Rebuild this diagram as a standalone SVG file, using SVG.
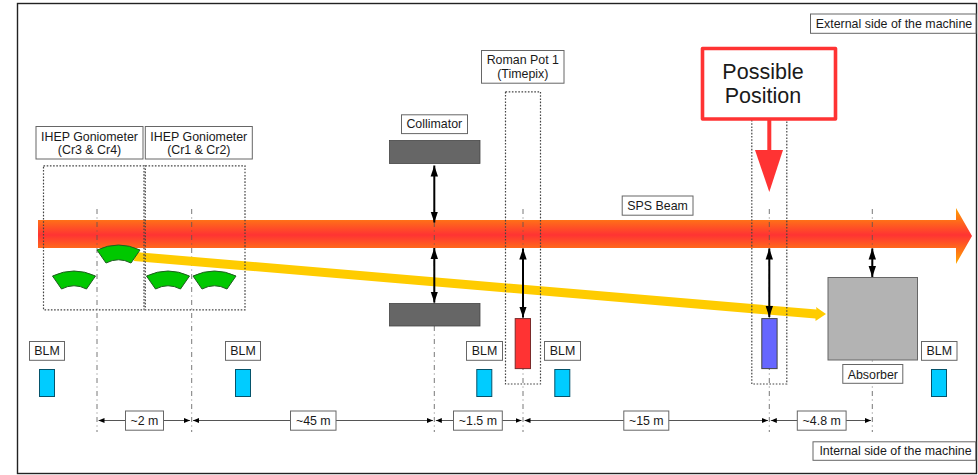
<svg xmlns="http://www.w3.org/2000/svg" width="978" height="475" viewBox="0 0 978 475">
<style>
text{font-family:"Liberation Sans",Arial,sans-serif;font-size:12.4px;fill:#1a1a1a;text-anchor:middle}
.lab{fill:#fff;stroke:#666;stroke-width:1}
.dot{fill:none;stroke:#444;stroke-width:1.2;stroke-dasharray:1.6 1.6}
.axis{fill:none;stroke:#555;stroke-width:.8;stroke-dasharray:5 3.5 1 3.5}
.dim{fill:none;stroke:#555;stroke-width:1;marker-start:url(#sa);marker-end:url(#ea)}
.move{fill:none;stroke:#000;stroke-width:2;marker-start:url(#ms);marker-end:url(#me)}
.blm{fill:#00ccff;stroke:#05536b;stroke-width:1}
.block{fill:#666;stroke:#444;stroke-width:.8}
.cr{fill:#00c800;stroke:#1f5c1f;stroke-width:1}
</style>
<defs>
<linearGradient id="bg" gradientUnits="userSpaceOnUse" x1="0" y1="207" x2="0" y2="263">
<stop offset="0" stop-color="#ffa500"/><stop offset=".5" stop-color="#ff3333"/><stop offset="1" stop-color="#ffa500"/>
</linearGradient>
<marker id="ea" markerUnits="userSpaceOnUse" markerWidth="7" markerHeight="6" refX="6" refY="3" orient="auto"><path d="M0,.6 L6,3 L0,5.4Z" fill="#000"/></marker>
<marker id="sa" markerUnits="userSpaceOnUse" markerWidth="7" markerHeight="6" refX="0" refY="3" orient="auto"><path d="M6,.6 L0,3 L6,5.4Z" fill="#000"/></marker>
<marker id="me" markerUnits="userSpaceOnUse" markerWidth="12" markerHeight="8" refX="11" refY="4" orient="auto"><path d="M0,.3 L11,4 L0,7.7Z" fill="#000"/></marker>
<marker id="ms" markerUnits="userSpaceOnUse" markerWidth="12" markerHeight="8" refX="0" refY="4" orient="auto"><path d="M11,.3 L0,4 L11,7.7Z" fill="#000"/></marker>
<path id="crystal" class="cr" d="M-21.5,5 Q0,-5 21.5,5 L12.5,18 Q0,11.5 -12.5,18Z"/>
</defs>
<rect id="frame" x="17.5" y="3.5" width="959" height="470" fill="#fff" stroke="#222" stroke-width="1.4"/>
<g id="beam"><path d="M38,220 H956 V208 L972,236 L956,264 V248 H38Z" fill="url(#bg)"/></g>
<g id="axes">
<path class="axis" d="M97,209V432"/><path class="axis" d="M191.700,209V432"/><path class="axis" d="M434.300,209V432"/><path class="axis" d="M523,209V432"/><path class="axis" d="M769.300,209V432"/><path class="axis" d="M872.300,209V432"/>
</g>
<g id="channeled-beam"><path d="M135,252 L816.500,309.500 L816,307 L826,314 L815.500,321 L815.500,318.500 L134,261Z" fill="#ffcc00"/></g>
<g id="goniometer-1">
<rect class="dot" x="43.500" y="165.800" width="100.500" height="144"/>
<use href="#crystal" x="74" y="271"/><use href="#crystal" x="118.500" y="245"/>
<rect class="lab" x="36" y="126.500" width="107" height="32.500"/>
<text x="89.500" y="140.700">IHEP Goniometer</text><text x="89.500" y="154.300">(Cr3 &amp; Cr4)</text>
</g>
<g id="goniometer-2">
<rect class="dot" x="145.300" y="165.800" width="99.700" height="144"/>
<use href="#crystal" x="168" y="271"/><use href="#crystal" x="214.500" y="271"/>
<rect class="lab" x="145.300" y="126.500" width="107" height="32.500"/>
<text x="198.800" y="140.700">IHEP Goniometer</text><text x="198.800" y="154.300">(Cr1 &amp; Cr2)</text>
</g>
<g id="collimator">
<rect class="block" x="389.500" y="140.500" width="90.500" height="23"/>
<rect class="block" x="389.500" y="303.500" width="90.500" height="22.500"/>
<rect class="lab" x="401.500" y="114.800" width="66" height="18.800"/>
<text x="434.300" y="128.400">Collimator</text>
</g>
<g id="roman-pot">
<rect class="dot" x="505.500" y="91.800" width="35" height="292.200"/>
<rect x="515.200" y="318.600" width="15.300" height="50" fill="#ff3333" stroke="#7a2a2a"/>
<rect class="lab" x="481.500" y="50.500" width="82.500" height="32.700"/>
<text x="522.800" y="64.300">Roman Pot 1</text><text x="522.800" y="78.300">(Timepix)</text>
</g>
<g id="possible-position">
<rect class="dot" x="751.800" y="118" width="35" height="266"/>
<rect x="761.800" y="318.600" width="15.300" height="50" fill="#6666ff" stroke="#444"/>
<path d="M769.300,120V151" stroke="#ff3333" stroke-width="4" fill="none"/>
<path d="M755,150H783L769.300,192Z" fill="#ff3333"/>
<rect x="702.500" y="48.500" width="133" height="70.500" fill="#fff" stroke="#ff3333" stroke-width="3.600" stroke-linejoin="round"/>
<text x="763" y="79" style="font-size:21.500px">Possible</text><text x="763" y="103" style="font-size:21.500px">Position</text>
</g>
<g id="absorber">
<rect x="828" y="277.500" width="89.500" height="82.500" fill="#b3b3b3" stroke="#666" stroke-width="1"/>
<rect class="lab" x="842.800" y="364.500" width="60" height="18.800"/>
<text x="872.800" y="378.500">Absorber</text>
</g>
<g id="blm-1"><rect class="lab" x="29.500" y="341.500" width="35" height="18.800"/><text x="47" y="355.300">BLM</text><rect class="blm" x="39.500" y="369.500" width="15" height="27"/></g>
<g id="blm-2"><rect class="lab" x="225.500" y="341.500" width="35" height="18.800"/><text x="243" y="355.300">BLM</text><rect class="blm" x="235.500" y="369.500" width="15" height="27"/></g>
<g id="blm-3"><rect class="lab" x="466.500" y="341.500" width="36" height="18.800"/><text x="484.500" y="355.300">BLM</text><rect class="blm" x="476.800" y="369.500" width="15" height="27"/></g>
<g id="blm-4"><rect class="lab" x="544.500" y="341.500" width="36" height="18.800"/><text x="562.500" y="355.300">BLM</text><rect class="blm" x="554.800" y="369.500" width="15" height="27"/></g>
<g id="blm-5"><rect class="lab" x="921.500" y="341.500" width="35.500" height="18.800"/><text x="939.300" y="355.300">BLM</text><rect class="blm" x="931.500" y="369.500" width="15" height="27"/></g>
<g id="connectors">
<path class="move" d="M434.300,165.500V222.500"/><path class="move" d="M434.300,248V302.500"/>
<path class="move" d="M523,248.500V317.500"/><path class="move" d="M769.300,248.500V317"/><path class="move" d="M872.300,248.500V277"/>
<path class="dim" d="M98.500,420.500H190"/><path class="dim" d="M193,420.500H433"/><path class="dim" d="M435.800,420.500H521.500"/><path class="dim" d="M524.500,420.500H768"/><path class="dim" d="M770.800,420.500H871"/>
</g>
<g id="dim-labels">
<rect class="lab" x="125.500" y="411" width="38" height="19.200"/><text x="144.500" y="425">~2 m</text>
<rect class="lab" x="290.500" y="411" width="45.500" height="19.200"/><text x="313.300" y="425">~45 m</text>
<rect class="lab" x="453.500" y="411" width="48.800" height="19.200"/><text x="477.900" y="425">~1.5 m</text>
<rect class="lab" x="623.800" y="411" width="45" height="19.200"/><text x="646.300" y="425">~15 m</text>
<rect class="lab" x="797.300" y="411" width="48.800" height="19.200"/><text x="821.700" y="425">~4.8 m</text>
</g>
<g id="sps-beam-label"><rect class="lab" x="622.200" y="196" width="70.800" height="19.200"/><text x="657.600" y="210">SPS Beam</text></g>
<g id="external-label"><rect class="lab" x="810.500" y="14" width="165.500" height="19.300"/><text x="894" y="28">External side of the machine</text></g>
<g id="internal-label"><rect class="lab" x="813" y="441.800" width="162.700" height="18.500"/><text x="895.500" y="455.200">Internal side of the machine</text></g>
</svg>
